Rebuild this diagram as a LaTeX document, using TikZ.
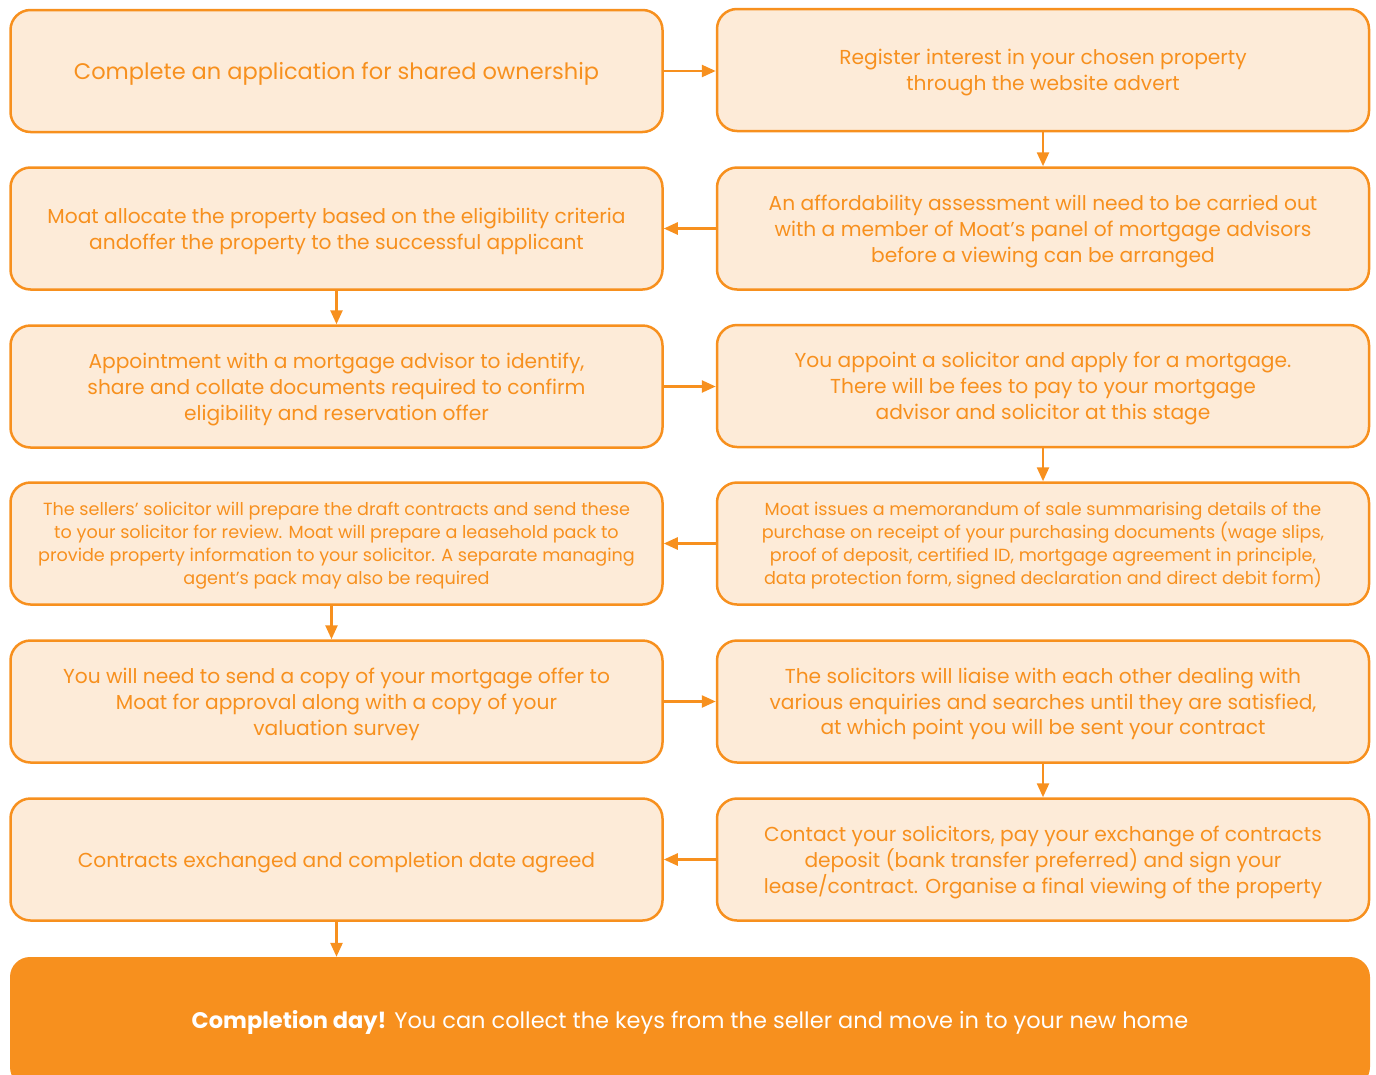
\documentclass[tikz,border=0pt]{standalone}
\usepackage{fontspec}
\setmainfont{Poppins}
\usetikzlibrary{arrows.meta}
\definecolor{moatorange}{HTML}{F7901E}
\definecolor{peach}{HTML}{FDEBD8}
\tikzset{
  stepbox/.style={rounded corners=20pt,draw=moatorange,fill=peach,line width=2.5pt,minimum width=652pt,minimum height=122pt,text=moatorange,align=center,inner sep=0pt,text depth=-5pt,font=\fontsize{20.2}{25.8}\selectfont},
  bigtext/.style={font=\fontsize{22.5}{28}\selectfont},
  smalltext/.style={font=\fontsize{17.6}{23}\selectfont,text depth=-3pt},
  finalbox/.style={rounded corners=20pt,fill=moatorange,minimum width=1360pt,minimum height=130pt,text=white,align=center,font=\fontsize{22.5}{26}\selectfont},
  arr/.style={-{Triangle[length=14pt,width=12pt]},draw=moatorange,line width=2.5pt}
}
\begin{document}
\begin{tikzpicture}[x=1pt,y=-1pt]
\useasboundingbox (0,0) rectangle (1376,1074);
% left column
\node[stepbox,bigtext] (l1) at (336.5,71) {Complete an application for shared ownership};
\node[stepbox] (l2) at (336.5,228.5) {Moat allocate the property based on the eligibility criteria\\andoffer the property to the successful applicant};
\node[stepbox] (l3) at (336.5,386.5) {Appointment with a mortgage advisor to identify,\\share and collate documents required to confirm\\eligibility and reservation offer};
\node[stepbox,smalltext] (l4) at (336.5,543.5) {The sellers’ solicitor will prepare the draft contracts and send these\\to your solicitor for review. Moat will prepare a leasehold pack to\\provide property information to your solicitor. A separate managing\\agent’s pack may also be required};
\node[stepbox] (l5) at (336.5,701.5) {You will need to send a copy of your mortgage offer to\\Moat for approval along with a copy of your\\valuation survey};
\node[stepbox] (l6) at (336.5,859.5) {Contracts exchanged and completion date agreed};
% right column
\node[stepbox] (r1) at (1043,70) {Register interest in your chosen property\\through the website advert};
\node[stepbox] (r2) at (1043,228.5) {An affordability assessment will need to be carried out\\with a member of Moat’s panel of mortgage advisors\\before a viewing can be arranged};
\node[stepbox] (r3) at (1043,386) {You appoint a solicitor and apply for a mortgage.\\There will be fees to pay to your mortgage\\advisor and solicitor at this stage};
\node[stepbox,smalltext] (r4) at (1043,543.5) {Moat issues a memorandum of sale summarising details of the\\purchase on receipt of your purchasing documents (wage slips,\\proof of deposit, certified ID, mortgage agreement in principle,\\data protection form, signed declaration and direct debit form)};
\node[stepbox] (r5) at (1043,701.5) {The solicitors will liaise with each other dealing with\\various enquiries and searches until they are satisfied,\\at which point you will be sent your contract};
\node[stepbox] (r6) at (1043,859.5) {Contact your solicitors, pay your exchange of contracts\\deposit (bank transfer preferred) and sign your\\lease/contract. Organise a final viewing of the property};
% last step
\node[finalbox] (done) at (690,1022) {\textbf{Completion day!} You can collect the keys from the seller and move in to your new home};
% connectors
\draw[arr] (l1.east) -- (r1.west |- l1.east);
\draw[arr] (r1.south) -- (r2.north);
\draw[arr] (r2.west) -- (l2.east);
\draw[arr] (l2.south) -- (l3.north);
\draw[arr] (l3.east) -- (r3.west |- l3.east);
\draw[arr] (r3.south) -- (r4.north);
\draw[arr] (r4.west) -- (l4.east);
\draw[arr] ([xshift=-5pt]l4.south) -- ([xshift=-5pt]l5.north);
\draw[arr] (l5.east) -- (r5.west);
\draw[arr] (r5.south) -- (r6.north);
\draw[arr] (r6.west) -- (l6.east);
\draw[arr] (l6.south) -- (l6.south |- done.north);
\end{tikzpicture}
\end{document}
